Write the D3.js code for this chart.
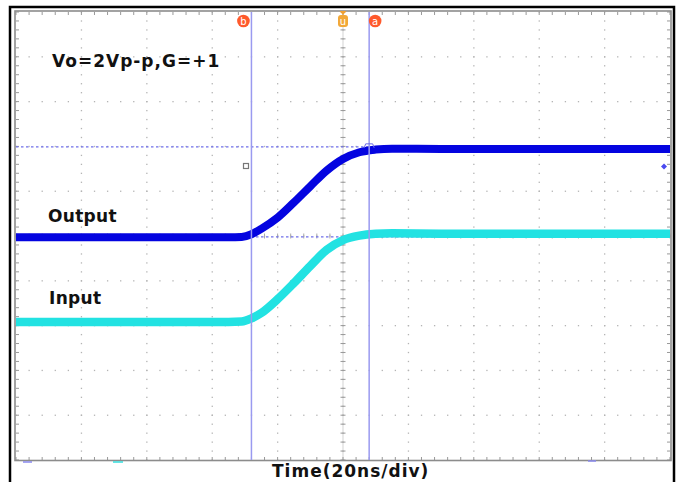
<!DOCTYPE html>
<html>
<head>
<meta charset="utf-8">
<script src="https://cdn.jsdelivr.net/npm/d3@7/dist/d3.min.js"></script>
<style>
  body { margin: 0; background: #fff; }
  text { font-family: "DejaVu Sans", Verdana, sans-serif; font-weight: bold; }
</style>
</head>
<body>
<svg id="scope" width="679" height="482"></svg>
<script>
// time in ns (20ns/div, trigger at 0), level in divisions from screen centre
var timeNs     = [-100, -60, -35, -31, -28, -25, -20, -15, -10, -5, 0, 5, 10, 15, 30, 60, 100];
var outputDiv  = [-0.03, -0.03, -0.03, -0.02, 0.04, 0.16, 0.41, 0.75, 1.11, 1.46, 1.72, 1.87, 1.93, 1.95, 1.94, 1.94, 1.94];
var inputDiv   = [-1.92, -1.92, -1.92, -1.91, -1.84, -1.72, -1.41, -1.05, -0.67, -0.31, -0.09, 0.01, 0.05, 0.06, 0.05, 0.05, 0.05];
var cursorT    = [{ name: "b", t: -28 }, { name: "a", t: 8 }];
var cursorV    = [1.99, -0.02];
var notes      = [{ text: "Vo=2Vp-p,G=+1", x: 52, y: 67 }, { text: "Output", x: 48, y: 222 }, { text: "Input", x: 49, y: 304 }];
var xTitle     = "Time(20ns/div)";

var svg = d3.select("#scope");
var x = d3.scaleLinear().domain([-100, 100]).range([16, 670]);
var y = d3.scaleLinear().domain([-5, 5]).range([460, 12]);

// outer frame (black), open at the bottom
svg.append("path").attr("d", "M10,482 V7 H674 V482").attr("fill", "none").attr("stroke", "#000").attr("stroke-width", 2.5);

var grid = svg.append("g");
var dotCol = "#b4b4b4";

// dotted major grid
d3.range(-80, 81, 20).forEach(function(t) {
  d3.range(-5, 5.01, 0.2).forEach(function(v) {
    grid.append("rect").attr("x", x(t) - 0.6).attr("y", y(v) - 0.6).attr("width", 1.3).attr("height", 1.3).attr("fill", dotCol);
  });
});
d3.range(-4, 4.01, 1).forEach(function(v) {
  d3.range(-100, 100.01, 4).forEach(function(t) {
    grid.append("rect").attr("x", x(t) - 0.6).attr("y", y(v) - 0.6).attr("width", 1.3).attr("height", 1.3).attr("fill", dotCol);
  });
});

// centre axes with minor ticks
grid.append("line").attr("x1", x(0)).attr("x2", x(0)).attr("y1", y(5)).attr("y2", y(-5)).attr("stroke", "#c8c8c8").attr("stroke-width", 0.8);
d3.range(-5, 5.01, 0.2).forEach(function(v) {
  grid.append("line").attr("x1", x(0) - 2.5).attr("x2", x(0) + 2.5).attr("y1", y(v)).attr("y2", y(v)).attr("stroke", "#999").attr("stroke-width", 1);
});
d3.range(-100, 100.01, 4).forEach(function(t) {
  grid.append("line").attr("x1", x(t)).attr("x2", x(t)).attr("y1", y(0) - 2.5).attr("y2", y(0) + 2.5).attr("stroke", "#aaa").attr("stroke-width", 1);
});

// border ticks
d3.range(-5, 5.01, 0.2).forEach(function(v) {
  grid.append("line").attr("x1", x(-100)).attr("x2", x(-100) + 3).attr("y1", y(v)).attr("y2", y(v)).attr("stroke", "#999");
  grid.append("line").attr("x1", x(100) - 3).attr("x2", x(100)).attr("y1", y(v)).attr("y2", y(v)).attr("stroke", "#999");
});
d3.range(-100, 100.01, 4).forEach(function(t) {
  grid.append("line").attr("x1", x(t)).attr("x2", x(t)).attr("y1", y(5)).attr("y2", y(5) + 3).attr("stroke", "#999");
  grid.append("line").attr("x1", x(t)).attr("x2", x(t)).attr("y1", y(-5) - 3).attr("y2", y(-5)).attr("stroke", "#999");
});

svg.append("rect").attr("x", x(-100) - 1).attr("y", y(5) - 1).attr("width", x(100) - x(-100) + 2).attr("height", y(-5) - y(5) + 1.5)
  .attr("fill", "none").attr("stroke", "#8c8c8c").attr("stroke-width", 1.6);

// channel markers on bottom border
svg.append("line").attr("x1", 23).attr("x2", 32).attr("y1", 462).attr("y2", 462).attr("stroke", "#8888ee").attr("stroke-width", 1.5);
svg.append("line").attr("x1", 113).attr("x2", 123).attr("y1", 462).attr("y2", 462).attr("stroke", "#33dddd").attr("stroke-width", 1.5);
svg.append("line").attr("x1", 588).attr("x2", 596).attr("y1", 461).attr("y2", 461).attr("stroke", "#8888ee").attr("stroke-width", 1.5);

// horizontal cursors
svg.selectAll(".cv").data(cursorV).enter().append("line")
  .attr("x1", x(-100)).attr("x2", x(100)).attr("y1", function(d) { return y(d); }).attr("y2", function(d) { return y(d); })
  .attr("stroke", "#6e6eea").attr("stroke-width", 1.1).attr("stroke-dasharray", "2.5,2.5");

// traces
var line = d3.line().curve(d3.curveMonotoneX);
svg.append("path").attr("d", line(timeNs.map(function(t, i) { return [x(t), y(inputDiv[i])]; })))
  .attr("fill", "none").attr("stroke", "#22e2e2").attr("stroke-width", 8.5);
svg.append("path").attr("d", line(timeNs.map(function(t, i) { return [x(t), y(outputDiv[i])]; })))
  .attr("fill", "none").attr("stroke", "#0404e0").attr("stroke-width", 8);

// vertical cursors
svg.selectAll(".ct").data(cursorT).enter().append("line")
  .attr("x1", function(d) { return x(d.t); }).attr("x2", function(d) { return x(d.t); })
  .attr("y1", y(5)).attr("y2", y(-5)).attr("stroke", "#9a9af0").attr("stroke-width", 1.5);

// cursor badges
cursorT.forEach(function(c) {
  var cx = c.name === "b" ? x(c.t) - 8 : x(c.t) + 6;
  svg.append("circle").attr("cx", cx).attr("cy", 21).attr("r", 6.3).attr("fill", "#ff5a2c");
  svg.append("text").attr("x", cx).attr("y", 24.8).attr("text-anchor", "middle").attr("fill", "#fff")
    .style("font-size", "10px").style("font-weight", "normal").text(c.name);
});

// trigger marker
svg.append("path").attr("d", "M" + (x(0) - 3.5) + ",11 h7 l-3.5,4 z").attr("fill", "#f0a030");
svg.append("rect").attr("x", x(0) - 5).attr("y", 15).attr("width", 10).attr("height", 12).attr("rx", 3).attr("fill", "#f2a838");
svg.append("text").attr("x", x(0)).attr("y", 24.5).attr("text-anchor", "middle").attr("fill", "#fff")
  .style("font-size", "10px").style("font-weight", "normal").text("u");

// small markers
svg.append("rect").attr("x", 243.5).attr("y", 163.5).attr("width", 5).attr("height", 5).attr("fill", "none").attr("stroke", "#777").attr("stroke-width", 1.2);
svg.append("path").attr("d", "M" + (x(8) - 5) + "," + (y(cursorV[0]) + 1) + " l1.5,-4 h7 l1.5,4").attr("fill", "none").attr("stroke", "#6a6ae8").attr("stroke-width", 1);
svg.append("path").attr("d", "M661,166.5 l3,-3 l3,3 l-3,3 z").attr("fill", "#4a4af0");

// labels
svg.selectAll(".note").data(notes).enter().append("text")
  .attr("x", function(d) { return d.x; }).attr("y", function(d) { return d.y; })
  .style("font-size", "17px").style("letter-spacing", function(d, i) { return i === 0 ? "1px" : "0.3px"; })
  .attr("fill", "#111").text(function(d) { return d.text; });

svg.append("text").attr("x", 272).attr("y", 477).style("font-size", "17px").style("letter-spacing", "1px")
  .attr("fill", "#111").text(xTitle);
</script>
</body>
</html>
